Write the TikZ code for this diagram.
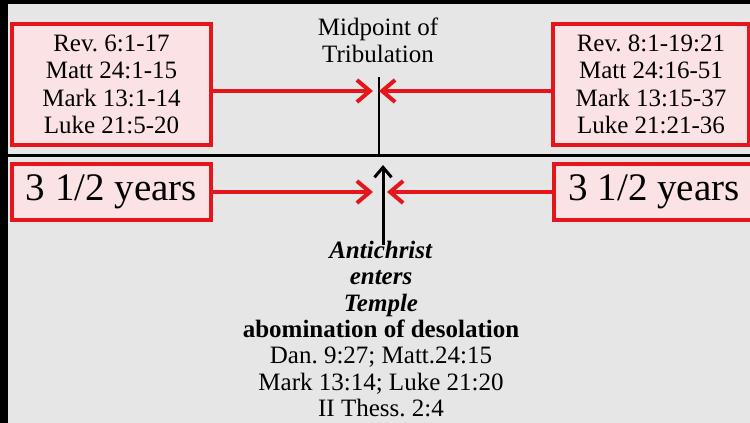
\documentclass[tikz,border=0pt]{standalone}
\usepackage{fontspec}
\setmainfont{Liberation Serif}
\usetikzlibrary{positioning}
\usetikzlibrary{arrows.meta}
\definecolor{boxred}{RGB}{228,22,28}
\definecolor{boxpink}{RGB}{251,226,229}
\definecolor{paper}{RGB}{230,230,230}

\begin{document}
\frenchspacing
\begin{tikzpicture}[x=1pt,y=-1pt,
	refbox/.style={rectangle,draw=boxred,fill=boxpink,line width=4pt,align=center,inner sep=0pt,
		minimum height=121pt,font=\fontsize{25}{27.5}\selectfont},
	yearbox/.style={rectangle,draw=boxred,fill=boxpink,line width=4pt,inner sep=0pt,
		minimum height=56pt,font=\fontsize{39}{42}\selectfont},
	redarrow/.style={-{Straight Barb[length=13pt,width=22pt]},draw=boxred,line width=4pt},
	blackarrow/.style={-{Straight Barb[length=10pt,width=17pt]},line width=3pt},
	note/.style={align=center,inner sep=0pt,font=\fontsize{25}{26.5}\selectfont}
	]
	\useasboundingbox (0,0) rectangle (750,423);
	\clip (0,0) rectangle (750,423);
	\fill [black] (0,0) rectangle (750,423);
	\fill [paper] (8,4) rectangle (750,423);

	% timeline
	\coordinate (midtop) at (379,77);
	\coordinate (midbase) at (379,155);
	\draw [line width=3pt] (8,155) -- (750,155);
	\draw [line width=2.5pt] (midtop) -- (midbase);

	\node [note,anchor=north] (midpoint) at (378,18) {Midpoint of\\Tribulation};

	\node [refbox,minimum width=199pt] (revL) at (111.5,84.5)
		{Rev. 6:1-17\\Matt 24:1-15\\Mark 13:1-14\\Luke 21:5-20};
	\node [refbox,minimum width=196pt] (revR) at (651,84.5)
		{Rev. 8:1-19:21\\Matt 24:16-51\\Mark 13:15-37\\Luke 21:21-36};
	\node [yearbox,minimum width=199pt] (yearsL) at (111.5,192) {3 1/2 years};
	\node [yearbox,minimum width=200pt] (yearsR) at (654,192) {3 1/2 years};

	\node [note,anchor=north,font=\fontsize{25}{26.3}\selectfont] (temple) at (381,241)
		{\textbf{\textit{Antichrist}}\\ \textbf{\textit{enters}}\\ \textbf{\textit{Temple}}\\
		\textbf{abomination of desolation}\\ Dan. 9:27; Matt.24:15\\ Mark 13:14; Luke 21:20\\ II Thess. 2:4};

	\coordinate (upL) at (373,91);
	\coordinate (upR) at (379,91);
	\coordinate (lowL) at (373,192);
	\coordinate (lowR) at (387,192);
	\coordinate (entry) at (383,165);

	\draw [redarrow] (revL.east |- upL) -- (upL);
	\draw [redarrow] (revR.west |- upR) -- (upR);
	\draw [redarrow] (yearsL.east) -- (lowL);
	\draw [redarrow] (yearsR.west) -- (lowR);
	\draw [blackarrow] (temple.north -| entry) ++(0,4) -- (entry);

\end{tikzpicture}
\end{document}
